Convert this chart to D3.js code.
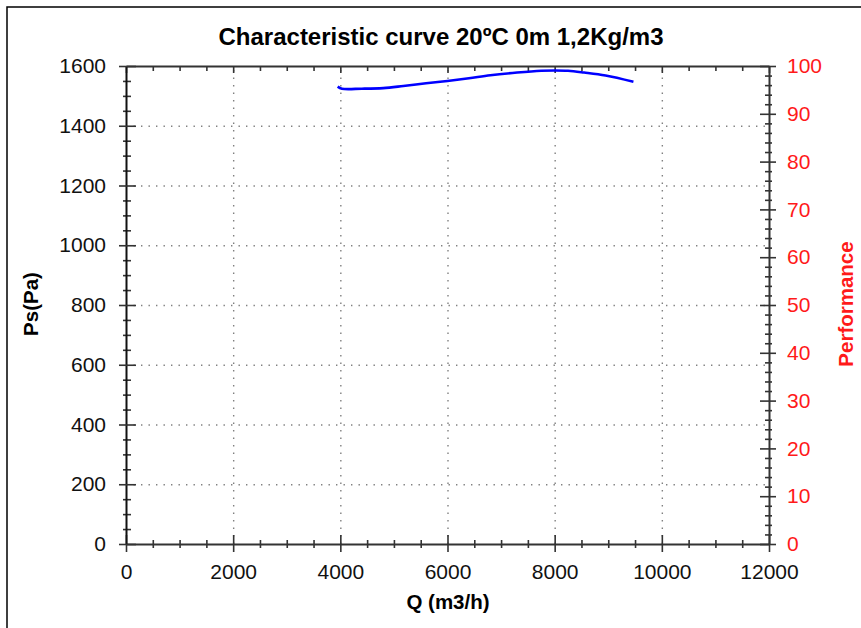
<!DOCTYPE html>
<html>
<head>
<meta charset="utf-8">
<script src="https://cdn.jsdelivr.net/npm/d3@7"></script>
<style>
  body { margin: 0; background: #fff; }
  svg text { font-family: "Liberation Sans", Arial, sans-serif; }
</style>
</head>
<body>
<div id="chart"></div>
<script>
// Fan characteristic curve — static pressure vs flow
const qValues  = [3950, 4030, 4400, 4800, 5175, 5600, 6000, 6400, 6800, 7300, 7750, 8000, 8250, 8550, 8950, 9470];
const psValues = [1531, 1524, 1524, 1526, 1533, 1542, 1550, 1559, 1569, 1578, 1584, 1585, 1584, 1578, 1568, 1547];

const xTicks      = [0, 2000, 4000, 6000, 8000, 10000, 12000];
const yTicks      = [0, 200, 400, 600, 800, 1000, 1200, 1400, 1600];
const perfTicks   = [0, 10, 20, 30, 40, 50, 60, 70, 80, 90, 100];

const width = 861, height = 628;
const plot = { left: 126, right: 769, top: 66, bottom: 544 };

const svg = d3.select("#chart").append("svg")
  .attr("width", width)
  .attr("height", height);

// outer frame (only top and left edges are in view)
svg.append("path")
  .attr("d", `M7,${height + 5} V7 H${width + 5}`)
  .attr("fill", "none")
  .attr("stroke", "#000")
  .attr("stroke-width", 1.5);

const x = d3.scaleLinear().domain([0, 12000]).range([plot.left, plot.right]);
const y = d3.scaleLinear().domain([0, 1600]).range([plot.bottom, plot.top]);
const yPerf = d3.scaleLinear().domain([0, 100]).range([plot.bottom, plot.top]);

const plotW = plot.right - plot.left;
const plotH = plot.bottom - plot.top;

// ── dotted grid ─────────────────────────────────────────
const gridStyle = g => {
  g.select(".domain").remove();
  g.selectAll("text").remove();
  g.selectAll("line")
    .attr("stroke", "#808080")
    .attr("stroke-width", 1.4)
    .attr("stroke-dasharray", "1.4,6.1");
};

svg.append("g")
  .attr("transform", `translate(0,${plot.bottom})`)
  .call(d3.axisBottom(x).tickValues(xTicks.slice(1, -1)).tickSize(-plotH))
  .call(gridStyle);

svg.append("g")
  .attr("transform", `translate(${plot.left},0)`)
  .call(d3.axisLeft(y).tickValues(yTicks.slice(1, -1)).tickSize(-plotW))
  .call(gridStyle);

// ── axes ────────────────────────────────────────────────
const axisColor = "#333";

// ticks that cross the axis line: inner/outer lengths
function crossTicks(g, sign, outer, inner, horizontal) {
  g.selectAll(".tick line")
    .attr("stroke", axisColor)
    .attr("stroke-width", 1.6)
    .each(function() {
      const l = d3.select(this);
      if (horizontal) { l.attr("y1", -sign * inner).attr("y2", sign * outer); }
      else            { l.attr("x1", -sign * inner).attr("x2", sign * outer); }
    });
}

const minorX = d3.range(0, 12001, 500).filter(v => v % 2000 !== 0);
const minorY = d3.range(0, 1601, 50).filter(v => v % 200 !== 0);
const minorP = d3.range(0, 101, 2).filter(v => v % 10 !== 0);

// bottom: minor then major
svg.append("g")
  .attr("transform", `translate(0,${plot.bottom})`)
  .call(d3.axisBottom(x).tickValues(minorX).tickFormat(""))
  .call(g => g.select(".domain").remove())
  .call(g => crossTicks(g, 1, 4, 4, true));

const xAxis = svg.append("g")
  .attr("transform", `translate(0,${plot.bottom})`)
  .call(d3.axisBottom(x).tickValues(xTicks).tickFormat(d3.format("d")).tickSizeOuter(0))
  .call(g => crossTicks(g, 1, 8, 9, true));
xAxis.select(".domain").attr("stroke", axisColor).attr("stroke-width", 2);
xAxis.selectAll("text")
  .attr("y", 0).attr("dy", 35)
  .style("font-size", "21px")
  .attr("fill", "#111");

// top: ticks pointing down only
svg.append("g")
  .attr("transform", `translate(0,${plot.top})`)
  .call(d3.axisTop(x).tickValues(minorX).tickFormat("").tickSize(-5))
  .call(g => g.select(".domain").remove())
  .call(g => g.selectAll(".tick line").attr("stroke", axisColor).attr("stroke-width", 1.6));

svg.append("g")
  .attr("transform", `translate(0,${plot.top})`)
  .call(d3.axisTop(x).tickValues(xTicks).tickFormat("").tickSize(-7).tickSizeOuter(0))
  .call(g => g.select(".domain").attr("stroke", axisColor).attr("stroke-width", 2))
  .call(g => g.selectAll(".tick line").attr("stroke", axisColor).attr("stroke-width", 1.6));

// left
svg.append("g")
  .attr("transform", `translate(${plot.left},0)`)
  .call(d3.axisLeft(y).tickValues(minorY).tickFormat(""))
  .call(g => g.select(".domain").remove())
  .call(g => crossTicks(g, -1, 3, 5, false));

const yAxis = svg.append("g")
  .attr("transform", `translate(${plot.left},0)`)
  .call(d3.axisLeft(y).tickValues(yTicks).tickFormat(d3.format("d")).tickSizeOuter(0))
  .call(g => crossTicks(g, -1, 7, 10, false));
yAxis.select(".domain").attr("stroke", "#111").attr("stroke-width", 2);
yAxis.selectAll("text")
  .attr("x", -20)
  .style("font-size", "21px")
  .attr("fill", "#111");

// right (performance)
svg.append("g")
  .attr("transform", `translate(${plot.right},0)`)
  .call(d3.axisRight(yPerf).tickValues(minorP).tickFormat(""))
  .call(g => g.select(".domain").remove())
  .call(g => crossTicks(g, 1, 3, 4, false));

const pAxis = svg.append("g")
  .attr("transform", `translate(${plot.right},0)`)
  .call(d3.axisRight(yPerf).tickValues(perfTicks).tickFormat(d3.format("d")).tickSizeOuter(0))
  .call(g => crossTicks(g, 1, 7, 9, false));
pAxis.select(".domain").attr("stroke", axisColor).attr("stroke-width", 2);
pAxis.selectAll("text")
  .attr("x", 18)
  .style("font-size", "21px")
  .attr("fill", "#ff1a1a");

// ── curve ───────────────────────────────────────────────
const pts = qValues.map((q, i) => [q, psValues[i]]);
svg.append("path")
  .datum(pts)
  .attr("fill", "none")
  .attr("stroke", "#0000ff")
  .attr("stroke-width", 2.6)
  .attr("stroke-linejoin", "round")
  .attr("d", d3.line().x(d => x(d[0])).y(d => y(d[1])).curve(d3.curveCatmullRom));

// ── titles ──────────────────────────────────────────────
svg.append("text")
  .attr("x", 441).attr("y", 45)
  .attr("text-anchor", "middle")
  .style("font-size", "24px")
  .style("font-weight", "bold")
  .attr("fill", "#000")
  .text("Characteristic curve 20ºC 0m 1,2Kg/m3");

svg.append("text")
  .attr("x", 448).attr("y", 609)
  .attr("text-anchor", "middle")
  .style("font-size", "20.5px")
  .style("font-weight", "bold")
  .attr("fill", "#000")
  .text("Q (m3/h)");

svg.append("text")
  .attr("transform", "translate(38,304) rotate(-90)")
  .attr("text-anchor", "middle")
  .style("font-size", "20.5px")
  .style("font-weight", "bold")
  .attr("fill", "#000")
  .text("Ps(Pa)");

svg.append("text")
  .attr("transform", "translate(853,304) rotate(-90)")
  .attr("text-anchor", "middle")
  .style("font-size", "20.5px")
  .style("font-weight", "bold")
  .attr("fill", "#ff1a1a")
  .text("Performance");
</script>
</body>
</html>
